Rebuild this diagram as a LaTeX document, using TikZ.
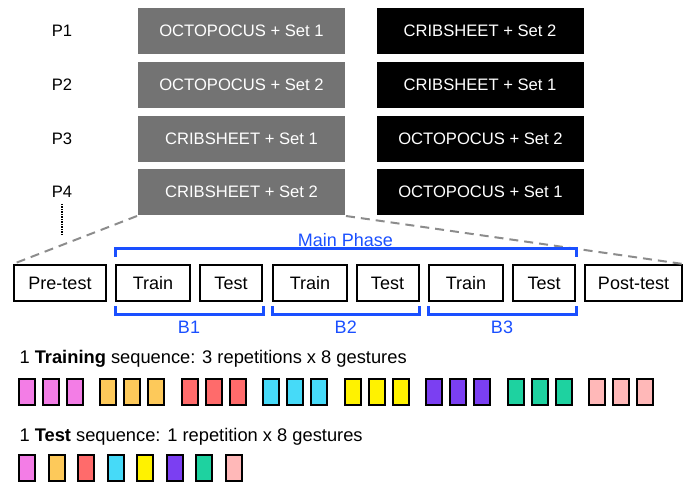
\documentclass[tikz,border=0pt]{standalone}
\usepackage{fontspec}
\setmainfont{Liberation Sans}
\usetikzlibrary{calc}
\definecolor{condgray}{HTML}{737373}
\definecolor{zoomgray}{HTML}{8C8C8C}
\definecolor{phaseblue}{HTML}{1A4FFF}
\definecolor{gpink}{HTML}{F37DE6}
\definecolor{gorange}{HTML}{FDC95A}
\definecolor{gred}{HTML}{FF6B6B}
\definecolor{gcyan}{HTML}{46DAF8}
\definecolor{gyellow}{HTML}{FFF200}
\definecolor{gpurple}{HTML}{7B3FF2}
\definecolor{ggreen}{HTML}{1ED2A0}
\definecolor{glightpink}{HTML}{FFB8B8}
\tikzset{
every picture/.style={x=1bp, y=-1bp, line width=2bp},
%%%%%%%%%%  Node styles
participant/.style={inner sep=0, font=\fontsize{16.6bp}{19bp}\selectfont},
condition/.style={minimum width=207bp, minimum height=46bp, inner sep=0,
                  text=white, font=\fontsize{16.6bp}{19bp}\selectfont},
firstcond/.style={condition, fill=condgray},
secondcond/.style={condition, fill=black},
phase/.style={draw, minimum height=36bp, inner sep=0,
              font=\fontsize{18bp}{21bp}\selectfont},
blocklabel/.style={inner sep=0, text=phaseblue,
                   font=\fontsize{18bp}{21bp}\selectfont},
seqtext/.style={anchor=west, inner sep=0,
                font=\fontsize{18.3bp}{21bp}\selectfont},
gesture/.style={draw, fill=#1, minimum width=16bp, minimum height=26bp,
                inner sep=0},
%%%% different line styles:
zoomline/.style={draw=zoomgray, dash pattern=on 9bp off 6bp},
brace/.style={draw=phaseblue, line width=3bp},
more/.style={densely dotted, line width=1.5bp}
}

\begin{document}
\begin{tikzpicture}
\useasboundingbox (0,0) rectangle (690,483);
%%%% counterbalancing
\node[participant] (p1) at (62,31) {P1};
\node[participant] (p2) at (62,85) {P2};
\node[participant] (p3) at (62,139) {P3};
\node[participant] (p4) at (62,192) {P4};
\node[firstcond] (a1) at (241.5,31) {OCTOPOCUS + Set 1};
\node[firstcond] (a2) at (241.5,85) {OCTOPOCUS + Set 2};
\node[firstcond] (a3) at (241.5,139) {CRIBSHEET + Set 1};
\node[firstcond] (a4) at (241.5,192) {CRIBSHEET + Set 2};
\node[secondcond] (b1) at (480,31) {CRIBSHEET + Set 2};
\node[secondcond] (b2) at (480,85) {CRIBSHEET + Set 1};
\node[secondcond] (b3) at (480.5,139) {OCTOPOCUS + Set 2};
\node[secondcond] (b4) at (480.5,192) {OCTOPOCUS + Set 1};
\coordinate (pmore) at (62,234);
\draw[more] (62,204) -- (pmore);
%%%% session
\node[phase, minimum width=92bp] (pre) at (60,283) {Pre-test};
\node[phase, minimum width=74bp] (tr1) at (153,283) {Train};
\node[phase, minimum width=62bp] (te1) at (231,283) {Test};
\node[phase, minimum width=74bp] (tr2) at (310,283) {Train};
\node[phase, minimum width=62bp] (te2) at (387.5,283) {Test};
\node[phase, minimum width=74bp] (tr3) at (466,283) {Train};
\node[phase, minimum width=62bp] (te3) at (544,283) {Test};
\node[phase, minimum width=97bp] (post) at (633.5,283) {Post-test};
\draw[zoomline] (a4.south west) -- (pre.north west);
\draw[zoomline] (a4.south east) -- (post.north east);
\draw[brace] ($(tr1.north west)+(0,-7)$) -- ($(tr1.north west)+(0,-15)$)
             -| ($(te3.north east)+(0,-7)$);
\node[blocklabel] (main) at (345.5,240) {Main Phase};
\draw[brace] ($(tr1.south west)+(0,4)$) -- ($(tr1.south west)+(0,12)$)
             -| ($(te1.south east)+(0,4)$);
\draw[brace] ($(tr2.south west)+(0,4)$) -- ($(tr2.south west)+(0,12)$)
             -| ($(te2.south east)+(0,4)$);
\draw[brace] ($(tr3.south west)+(0,4)$) -- ($(tr3.south west)+(0,12)$)
             -| ($(te3.south east)+(0,4)$);
\node[blocklabel] (bl1) at ($(tr1.south west)!0.5!(te1.south east)+(0,25)$) {B1};
\node[blocklabel] (bl2) at ($(tr2.south west)!0.5!(te2.south east)+(0,25)$) {B2};
\node[blocklabel] (bl3) at ($(tr3.south west)!0.5!(te3.south east)+(0,25)$) {B3};
%%%% sequences
\node[seqtext] (trainseq) at (18.5,359)
     {1 \textbf{Training} sequence: 3 repetitions x 8 gestures};
\node[seqtext] (testseq) at (18.5,437)
     {1 \textbf{Test} sequence: 1 repetition x 8 gestures};
\foreach \col [count=\g from 0] in
    {gpink,gorange,gred,gcyan,gyellow,gpurple,ggreen,glightpink}{
  \foreach \r in {0,1,2}
    \node[gesture=\col] (tr-\g-\r) at ({27+81.45*\g+24*\r},392) {};
  \node[gesture=\col] (te-\g) at ({27+29.57*\g},468) {};
}
\end{tikzpicture}
\end{document}
